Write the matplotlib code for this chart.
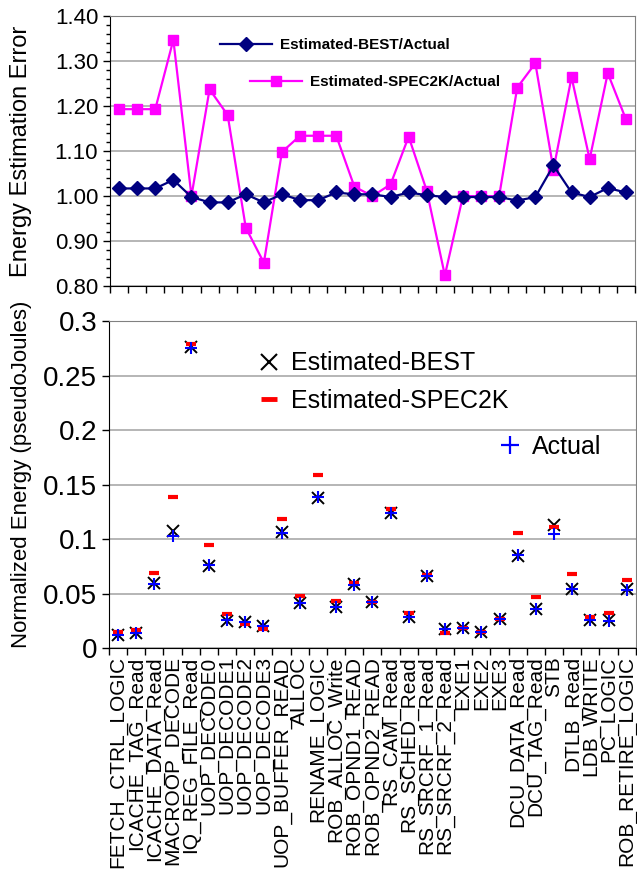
import matplotlib
matplotlib.use("Agg")
import matplotlib.pyplot as plt
from matplotlib.lines import Line2D
from matplotlib.ticker import MultipleLocator, FormatStrFormatter, FixedLocator
import numpy as np

plt.rcParams['font.family'] = ['Liberation Sans', 'DejaVu Sans']

units = ["FETCH_CTRL_LOGIC", "ICACHE_TAG_Read", "ICACHE_DATA_Read", "MACROOP_DECODE",
         "IQ_REG_FILE_Read", "UOP_DECODE0", "UOP_DECODE1", "UOP_DECODE2", "UOP_DECODE3",
         "UOP_BUFFER_READ", "ALLOC", "RENAME_LOGIC", "ROB_ALLOC_Write", "ROB_OPND1_READ",
         "ROB_OPND2_READ", "RS_CAM_Read", "RS_SCHED_Read", "RS_SRCRF_1_Read", "RS_SRCRF_2_Read",
         "EXE1", "EXE2", "EXE3", "DCU_DATA_Read", "DCU_TAG_Read", "STB", "DTLB_Read",
         "LDB_WRITE", "PC_LOGIC", "ROB_RETIRE_LOGIC"]

# top chart: ratio of estimate to actual
best_ratio = [1.017, 1.017, 1.017, 1.036, 0.998, 0.986, 0.986, 1.004, 0.986, 1.004,
              0.991, 0.991, 1.008, 1.004, 1.004, 0.998, 1.008, 1.002, 0.998, 0.998,
              0.998, 0.998, 0.990, 0.998, 1.068, 1.008, 0.998, 1.018, 1.008]
spec_ratio = [1.193, 1.193, 1.193, 1.347, 1.000, 1.237, 1.180, 0.930, 0.852, 1.098,
              1.134, 1.134, 1.134, 1.021, 1.000, 1.026, 1.132, 1.012, 0.824, 1.000,
              1.000, 1.000, 1.241, 1.295, 1.059, 1.264, 1.082, 1.273, 1.171]

# bottom chart: energy values
actual = [0.0120, 0.0135, 0.0585, 0.1030, 0.2755, 0.0760, 0.0255, 0.0235, 0.0205, 0.1060,
          0.0415, 0.1385, 0.0375, 0.0580, 0.0422, 0.1240, 0.0283, 0.0660, 0.0170, 0.0188,
          0.0150, 0.0262, 0.0852, 0.0362, 0.1050, 0.0538, 0.0260, 0.0252, 0.0535]
est_best = [0.0122, 0.0137, 0.0595, 0.1075, 0.2762, 0.0750, 0.0252, 0.0237, 0.0202, 0.1065,
            0.0412, 0.1375, 0.0378, 0.0583, 0.0424, 0.1238, 0.0285, 0.0662, 0.0170, 0.0188,
            0.0150, 0.0262, 0.0845, 0.0362, 0.1130, 0.0542, 0.0260, 0.0257, 0.0540]
est_spec = [0.0145, 0.0165, 0.0690, 0.1390, 0.2787, 0.0945, 0.0315, 0.0220, 0.0175, 0.1180,
            0.0475, 0.1585, 0.0430, 0.0600, 0.0425, 0.1275, 0.0320, 0.0670, 0.0140, 0.0188,
            0.0150, 0.0262, 0.1060, 0.0470, 0.1110, 0.0683, 0.0282, 0.0322, 0.0628]

x = np.arange(len(units)) + 0.5

fig = plt.figure(figsize=(6.37, 8.86), dpi=100)
ax1 = fig.add_axes([0.1727, 0.677, 0.824, 0.305])
ax2 = fig.add_axes([0.1711, 0.2686, 0.827, 0.369])

# ---- top chart
l1, = ax1.plot(x, best_ratio, color='#000080', marker='D', ms=7, lw=1.6, zorder=3)
l2, = ax1.plot(x, spec_ratio, color='#FF00FF', marker='s', ms=7, lw=1.6, zorder=2)
ax1.set_xlim(0, len(units))
ax1.set_ylim(0.8, 1.4)
ax1.yaxis.set_major_locator(MultipleLocator(0.1))
ax1.yaxis.set_minor_locator(MultipleLocator(0.02))
ax1.yaxis.set_major_formatter(FormatStrFormatter('%.2f'))
ax1.set_xticks(range(len(units) + 1))
ax1.set_xticklabels([])
ax1.tick_params(axis='both', which='major', direction='out', length=5, width=1, labelsize=16)
ax1.tick_params(axis='y', which='minor', direction='out', length=3, width=1)
ax1.grid(axis='y', color='#b0b0b0', lw=1.3)
ax1.set_axisbelow(True)
for s in ['top', 'right']:
    ax1.spines[s].set_color('#808080')
ax1.set_ylabel('Energy Estimation Error', fontsize=17)
ax1.yaxis.set_label_coords(-0.148, 0.5)

leg_a = ax1.legend([l1], ['Estimated-BEST/Actual'], loc='center left',
                   bbox_to_anchor=(0.2095, 0.893), frameon=False, borderpad=0,
                   borderaxespad=0, handlelength=3.4, handletextpad=0.55,
                   prop={'size': 11, 'weight': 'bold'})
ax1.add_artist(leg_a)
ax1.legend([l2], ['Estimated-SPEC2K/Actual'], loc='center left',
           bbox_to_anchor=(0.2667, 0.756), frameon=False, borderpad=0,
           borderaxespad=0, handlelength=3.4, handletextpad=0.55,
           prop={'size': 11, 'weight': 'bold'})

# ---- bottom chart
ax2.plot(x, est_best, ls='none', marker='x', ms=8, mew=1.4, color='black', zorder=3)
ax2.plot(x, est_spec, ls='none', marker='_', ms=7, mew=3, color='#FF0000', zorder=4)
ax2.plot(x, actual, ls='none', marker='+', ms=9, mew=1.5, color='#0000FF', zorder=5)
ax2.set_xlim(0, len(units))
ax2.set_ylim(0, 0.3)
ax2.set_yticks([0, 0.05, 0.1, 0.15, 0.2, 0.25, 0.3])
ax2.set_yticklabels(['0', '0.05', '0.1', '0.15', '0.2', '0.25', '0.3'])
ax2.xaxis.set_major_locator(FixedLocator(range(len(units) + 1)))
ax2.set_xticklabels([])
ax2.xaxis.set_minor_locator(FixedLocator(x))
ax2.set_xticklabels(units, minor=True, rotation=90, ha='center', va='top', fontsize=15)
ax2.tick_params(axis='x', which='minor', length=0, pad=6)
ax2.tick_params(axis='both', which='major', direction='out', length=5, width=1, labelsize=20)
ax2.grid(axis='y', color='#b0b0b0', lw=1.3)
ax2.set_axisbelow(True)
for s in ['top', 'right']:
    ax2.spines[s].set_color('#808080')
ax2.set_ylabel('Normalized Energy (pseudoJoules)', fontsize=16)
ax2.yaxis.set_label_coords(-0.146, 0.53)

h_best = Line2D([], [], ls='none', marker='x', ms=11, mew=1.5, color='black')
h_spec = Line2D([], [], ls='none', marker='_', ms=11, mew=3.5, color='#FF0000')
h_act = Line2D([], [], ls='none', marker='+', ms=13, mew=1.6, color='#0000FF')
leg_b = ax2.legend([h_best, h_spec], ['Estimated-BEST', 'Estimated-SPEC2K'], loc='center left',
                   bbox_to_anchor=(0.281, 0.813), frameon=False, borderpad=0,
                   borderaxespad=0, handlelength=0.95, handletextpad=0.4,
                   labelspacing=0.55, fontsize=18)
ax2.add_artist(leg_b)
ax2.legend([h_act], ['Actual'], loc='center left', bbox_to_anchor=(0.738, 0.615),
           frameon=False, borderpad=0, borderaxespad=0, handlelength=0.95,
           handletextpad=0.4, fontsize=18)

fig.savefig('out.png', dpi=100)
